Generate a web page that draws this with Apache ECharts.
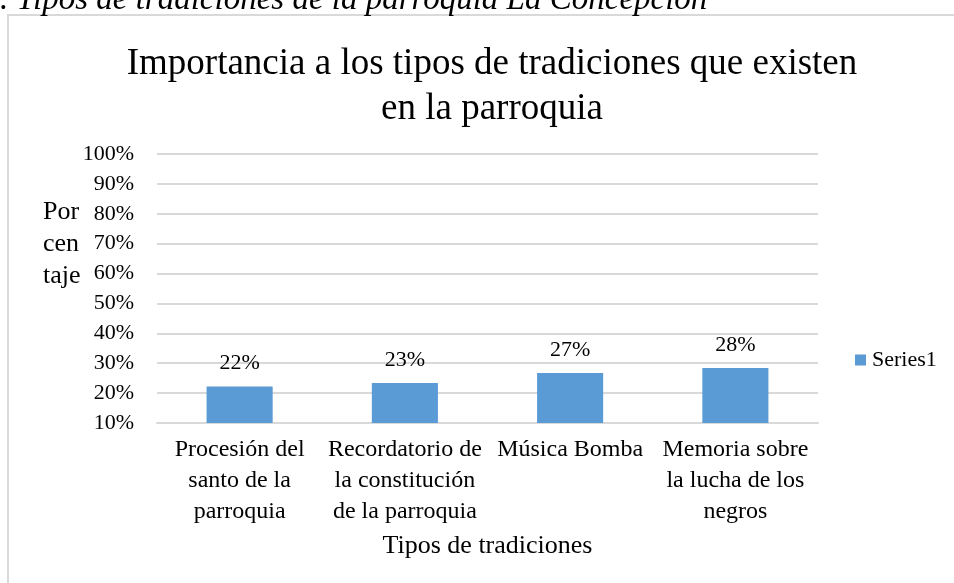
<!DOCTYPE html>
<html>
<head>
<meta charset="utf-8">
<script src="https://cdn.jsdelivr.net/npm/echarts@6/dist/echarts.min.js"></script>
<style>
  html, body { margin: 0; padding: 0; background: #fff; }
  #chart { width: 954px; height: 583px; }
</style>
</head>
<body>
<div id="chart"></div>
<script>
  const categories = [
    "Procesión del\nsanto de la\nparroquia",
    "Recordatorio de\nla constitución\nde la parroquia",
    "Música Bomba",
    "Memoria sobre\nla lucha de los\nnegros"
  ];
  const series1 = [22.2, 23.4, 26.7, 28.4];
  const yTicks = { min: 10, max: 100, step: 10 };

  const serif = "'Liberation Serif', 'Times New Roman', serif";
  const grey = "#d9d9d9";
  const chart = echarts.init(document.getElementById("chart"));

  chart.setOption({
    animation: false,
    textStyle: { fontFamily: serif, color: "#000" },
    title: {
      text: "Importancia a los tipos de tradiciones que existen\nen la parroquia",
      left: 487,
      textAlign: "center",
      top: 37,
      textStyle: { fontFamily: serif, fontWeight: "normal", fontSize: 37, lineHeight: 45, color: "#000" }
    },
    legend: {
      data: ["Series1"],
      left: 850,
      top: 344,
      icon: "rect",
      itemWidth: 11,
      itemHeight: 11,
      itemGap: 4,
      textStyle: { fontFamily: serif, fontSize: 22, color: "#000", padding: [0, 0, 0, 1] }
    },
    graphic: [
      {
        type: "rect",
        shape: { x: 8, y: 15, width: 960, height: 600 },
        style: { fill: "none", stroke: grey, lineWidth: 2 }
      },
      {
        type: "text",
        left: 0,
        top: -16,
        style: {
          text: ". Tipos de tradiciones de la parroquia La Concepción",
          font: "italic 33px " + serif,
          fill: "#000"
        }
      },
      {
        type: "text",
        left: 43,
        top: 196,
        style: {
          text: "Por\ncen\ntaje",
          font: "26px " + serif,
          lineHeight: 32,
          fill: "#000"
        }
      }
    ],
    grid: { left: 157, right: 136, top: 154, bottom: 160 },
    xAxis: {
      type: "category",
      data: categories,
      name: "Tipos de tradiciones",
      nameLocation: "middle",
      nameGap: 110,
      nameTextStyle: { fontFamily: serif, fontSize: 26, color: "#000" },
      axisLine: { lineStyle: { color: grey, width: 2 } },
      axisTick: { show: false },
      axisLabel: { fontFamily: serif, fontSize: 24, lineHeight: 31, color: "#000", margin: 11, interval: 0 }
    },
    yAxis: {
      type: "value",
      min: yTicks.min,
      max: yTicks.max,
      interval: yTicks.step,
      axisLine: { show: false },
      axisTick: { show: false },
      splitLine: { lineStyle: { color: grey, width: 2 } },
      axisLabel: { fontFamily: serif, fontSize: 22, color: "#000", margin: 23, formatter: "{value}%" }
    },
    series: [
      {
        name: "Series1",
        type: "bar",
        data: series1,
        barWidth: "40%",
        itemStyle: { color: "#5b9bd5" },
        label: {
          show: true,
          position: "top",
          distance: 12,
          fontFamily: serif,
          fontSize: 22,
          color: "#000",
          formatter: (p) => Math.round(p.value) + "%"
        }
      }
    ]
  });
</script>
</body>
</html>
